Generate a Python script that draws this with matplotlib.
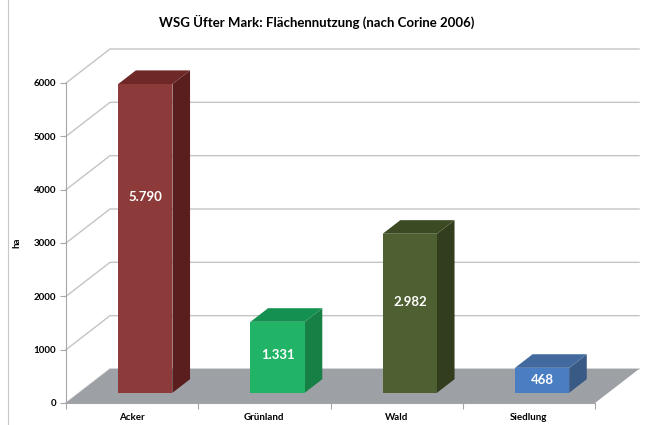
import numpy as np
import matplotlib
matplotlib.use('Agg')
import matplotlib.pyplot as plt
from matplotlib.patches import Polygon
from matplotlib.lines import Line2D
from matplotlib.transforms import IdentityTransform

# Flächennutzung nach Corine 2006 (ha)
categories = ['Acker', 'Grünland', 'Wald', 'Siedlung']
values = [5790, 1331, 2982, 468]
front_colors = ['#8d3a3a', '#22b466', '#4e5f31', '#4a7ec2']
side_colors = ['#5a1e1e', '#178045', '#313d1c', '#3a5a86']
top_colors = ['#6e2828', '#149150', '#3c4a24', '#426a9e']
yticks = [0, 1000, 2000, 3000, 4000, 5000, 6000]

plt.rcParams['font.family'] = ['Lato', 'DejaVu Sans']

fig = plt.figure(figsize=(6.5, 4.25), dpi=100)
ax = fig.add_axes([66 / 650, 22 / 425, 529 / 650, 320 / 425])
ax.set_xlim(-0.5, 3.5)
ax.set_ylim(0, 6000)
ax.patch.set_visible(False)

depth = np.array([44.0, 34.0])  # pseudo-3d depth of the walls, in pixels
bar_w = 0.41
d0, d1 = 0.3, 0.7  # bar front/back position inside the depth
ident = IdentityTransform()


def px(x, y, d=0.0):
    # data point -> display pixels, pushed back by d of the depth
    return ax.transData.transform((x, y)) + depth * d


# gridlines on side wall and back wall
for v in yticks:
    pts = np.array([px(-0.5, v), px(-0.5, v, 1), px(3.5, v, 1)])
    ax.add_artist(Line2D(pts[:, 0], pts[:, 1], transform=ident, color='#c4c4c4',
                         lw=1.0, zorder=1, clip_on=False))

# floor
floor = [px(-0.5, 0), px(3.5, 0), px(3.5, 0, 1), px(-0.5, 0, 1)]
ax.add_artist(Polygon(floor, closed=True, transform=ident, facecolor='#9da0a5',
                      edgecolor='none', zorder=2, clip_on=False))

# bars
for i, v in enumerate(values):
    x0, x1 = i - bar_w / 2, i + bar_w / 2
    side = [px(x1, 0, d0), px(x1, 0, d1), px(x1, v, d1), px(x1, v, d0)]
    top = [px(x0, v, d0), px(x1, v, d0), px(x1, v, d1), px(x0, v, d1)]
    front = [px(x0, 0, d0), px(x1, 0, d0), px(x1, v, d0), px(x0, v, d0)]
    for poly, c in [(side, side_colors[i]), (top, top_colors[i]), (front, front_colors[i])]:
        ax.add_artist(Polygon(poly, closed=True, transform=ident, facecolor=c,
                              edgecolor='none', zorder=3, clip_on=False))
    lx, ly = px(i, v * (0.5 + 0.14 * v / 6000), d0)
    ax.text(lx, ly, f'{v:,}'.replace(',', '.'), transform=ident, ha='center', va='center',
            color='white', fontsize=9.5, fontweight='bold', zorder=4)

# axes
for s in ['top', 'right']:
    ax.spines[s].set_visible(False)
for s in ['left', 'bottom']:
    ax.spines[s].set_color('#a6a6a6')
    ax.spines[s].set_linewidth(0.8)

ax.set_yticks(yticks)
ax.set_yticklabels([str(t) for t in yticks], fontsize=7, fontweight='bold')
ax.tick_params(axis='y', length=4, width=0.8, color='#a6a6a6', pad=3)

ax.set_xticks(np.arange(-0.5, 4, 1))
ax.set_xticklabels([])
ax.tick_params(axis='x', which='major', length=4, width=0.8, color='#a6a6a6')
ax.set_xticks(range(len(categories)), minor=True)
ax.set_xticklabels(categories, minor=True, fontsize=7, fontweight='bold')
ax.tick_params(axis='x', which='minor', length=0, pad=7)

ax.set_ylabel('ha', fontsize=7, fontweight='bold', labelpad=9)

fig.text(317 / 650, 1 - 22 / 425, 'WSG Üfter Mark: Flächennutzung (nach Corine 2006)',
         ha='center', va='center', fontsize=9.5, fontweight='bold')

# chart frame edge on the left
fig.add_artist(Line2D([8 / 650, 8 / 650], [0, 1], transform=fig.transFigure,
                      color='#c8c8c8', lw=0.8))

fig.savefig('out.png', dpi=100)
